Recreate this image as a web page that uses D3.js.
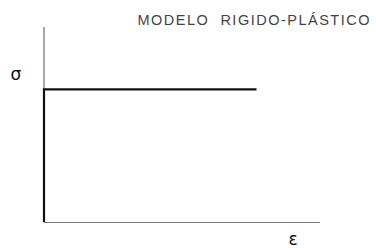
<!DOCTYPE html>
<html>
<head>
<meta charset="utf-8">
<script src="https://cdn.jsdelivr.net/npm/d3@7"></script>
<style>
body { margin: 0; background: #fff; }
</style>
</head>
<body>
<div id="viz"></div>
<script>
// modelo rigido-plastico: curva sigma-epsilon
const title = "MODELO  RIGIDO-PLÁSTICO";
const strain = [0, 0, 0.77];
const stress = [0, 0.68, 0.68];
const xLabel = "ε", yLabel = "σ";

const width = 376, height = 248;
const svg = d3.select("#viz").append("svg")
  .attr("width", width).attr("height", height);

const x = d3.scaleLinear().domain([0, 1]).range([44, 320]);
const y = d3.scaleLinear().domain([0, 1]).range([222, 27]);

// ejes finos
svg.append("line")
  .attr("x1", x(0)).attr("x2", x(0))
  .attr("y1", y(0)).attr("y2", y(1))
  .attr("stroke", "#555").attr("stroke-width", 1);
svg.append("line")
  .attr("x1", x(0)).attr("x2", x(1))
  .attr("y1", y(0) + 0.5).attr("y2", y(0) + 0.5)
  .attr("stroke", "#777").attr("stroke-width", 1);

// curva
const pts = strain.map((e, i) => [e, stress[i]]);
svg.append("path")
  .datum(pts)
  .attr("d", d3.line().x(d => x(d[0])).y(d => y(d[1])))
  .attr("fill", "none")
  .attr("stroke", "#111")
  .attr("stroke-width", 2.2);

svg.append("text")
  .attr("x", 371).attr("y", 25)
  .attr("text-anchor", "end")
  .attr("xml:space", "preserve")
  .style("white-space", "pre")
  .style("font-family", "Liberation Sans, sans-serif")
  .style("font-size", "14.5px")
  .style("letter-spacing", "1.5px")
  .attr("fill", "#444")
  .text(title);

svg.append("text")
  .attr("x", 16).attr("y", 80)
  .attr("text-anchor", "middle")
  .style("font-family", "DejaVu Sans, sans-serif")
  .style("font-size", "17px")
  .attr("fill", "#111")
  .text(yLabel);

svg.append("text")
  .attr("x", 293).attr("y", 245)
  .attr("text-anchor", "middle")
  .style("font-family", "DejaVu Sans, sans-serif")
  .style("font-size", "17px")
  .attr("fill", "#111")
  .text(xLabel);
</script>
</body>
</html>
